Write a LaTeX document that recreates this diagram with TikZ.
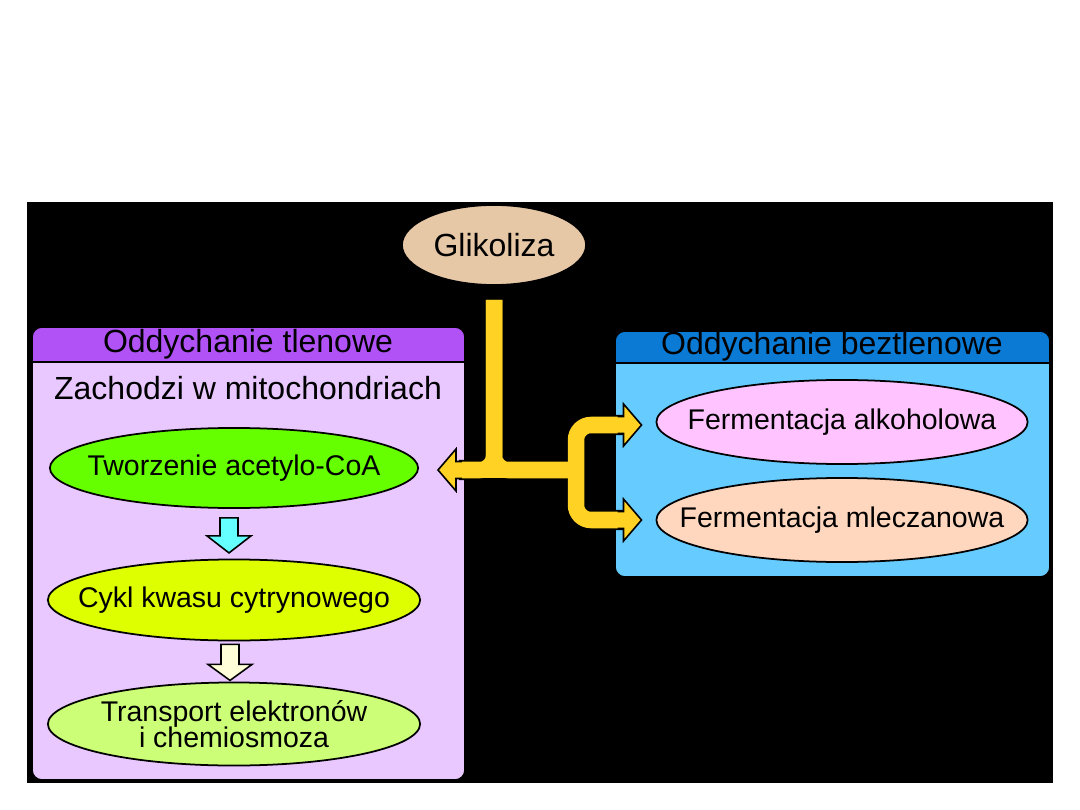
\documentclass[tikz,border=0pt]{standalone}
\usepackage{fontspec}
\setmainfont{Liberation Sans}
\usetikzlibrary{shapes.geometric, calc, positioning}

\definecolor{tlenHead}{RGB}{176,82,246}
\definecolor{tlenBody}{RGB}{232,200,255}
\definecolor{beztHead}{RGB}{10,122,212}
\definecolor{beztBody}{RGB}{102,204,255}
\definecolor{glikFill}{RGB}{230,200,167}
\definecolor{acetylFill}{RGB}{102,255,0}
\definecolor{cyklFill}{RGB}{222,255,0}
\definecolor{transFill}{RGB}{204,255,119}
\definecolor{alkoFill}{RGB}{255,196,255}
\definecolor{mleczFill}{RGB}{255,214,190}
\definecolor{cyanArr}{RGB}{102,255,255}
\definecolor{creamArr}{RGB}{255,255,216}
\definecolor{glikArr}{RGB}{255,210,36}

\begin{document}
\begin{tikzpicture}[x=0.01cm, y=-0.01cm,
    big/.style={font=\fontsize{9.1}{11}\selectfont},
    oval/.style={ellipse, draw, line width=0.5pt, inner sep=0pt},
    txt/.style={font=\fontsize{8.1}{7.2}\selectfont, align=center},
    frame/.style={draw, line width=0.45pt},
    shaftout/.style={draw=black, line width=0.2cm},
    shaftin/.style={draw=glikArr, line width=0.165cm},
    yhead/.style={fill=glikArr, draw=black, line width=0.45pt, line join=miter},
    blockarr/.style={draw=black, line width=0.45pt}]

    % page and black slide area
    \useasboundingbox (0,0) rectangle (1080,810);
    \fill[white] (0,0) rectangle (1080,810);
    \fill[black] (27,202) rectangle (1053,783);

    % Left frame: aerobic
    \draw[frame, fill=tlenBody, rounded corners=0.1cm] (32,327) rectangle (465,780);
    \draw[frame, fill=tlenHead] (32,362) [rounded corners=0.1cm] -- (32,327) -- (465,327) [sharp corners] -- (465,362) -- cycle;
    \node[big] (tlen) at (248,344) {Oddychanie tlenowe};
    \node[big] (mito) at (248,388) {Zachodzi w mitochondriach};

    % Right frame: anaerobic
    \draw[frame, fill=beztBody, rounded corners=0.1cm] (615,331) rectangle (1050,577);
    \draw[frame, fill=beztHead] (615,363) [rounded corners=0.1cm] -- (615,331) -- (1050,331) [sharp corners] -- (1050,363) -- cycle;
    \node[big] (bezt) at (832,346) {Oddychanie beztlenowe};

    % Process nodes (ellipse size fixed, text as centre label)
    \node[oval, fill=glikFill, minimum width=1.84cm, minimum height=0.8cm,
        label={[big]center:Glikoliza}] (glik) at (494,245) {};
    \node[oval, fill=acetylFill, minimum width=3.68cm, minimum height=0.8cm,
        label={[txt]center:Tworzenie acetylo-CoA}] (acetyl) at (234,468) {};
    \node[oval, fill=cyklFill, minimum width=3.72cm, minimum height=0.81cm,
        label={[txt]center:Cykl kwasu cytrynowego}] (cykl) at (234,600) {};
    \node[oval, fill=transFill, minimum width=3.72cm, minimum height=0.83cm,
        label={[txt]center:Transport elektronów\\[-1pt]i chemiosmoza}] (trans) at (234,724) {};
    \node[oval, fill=alkoFill, minimum width=3.71cm, minimum height=0.84cm,
        label={[txt]center:Fermentacja alkoholowa}] (alko) at (842,422) {};
    \node[oval, fill=mleczFill, minimum width=3.71cm, minimum height=0.84cm,
        label={[txt]center:Fermentacja mleczanowa}] (mlecz) at (842,520) {};

    % Block arrows inside the mitochondria
    \draw[blockarr, fill=cyanArr] ($(acetyl.south)+(-14,9)$) -- ++(18,0) -- ++(0,18) -- ++(13,0)
        -- ++(-22,17) -- ++(-22,-17) -- ++(13,0) -- cycle;
    \draw[blockarr, fill=creamArr] ($(cykl.south)+(-13,3)$) -- ++(18,0) -- ++(0,20) -- ++(13,0)
        -- ++(-22,16) -- ++(-22,-16) -- ++(13,0) -- cycle;

    % Yellow branching arrow from glycolysis
    \coordinate (top) at ($(glik.south)+(0,14)$);
    \coordinate (fork) at (top |- 0,470);
    \coordinate (ltip) at ($(acetyl.east)+(19,2)$);
    \coordinate (brace) at (576,470);
    \coordinate (atip) at ($(alko.west)+(-14,3)$);
    \coordinate (mtip) at ($(mlecz.west)+(-14,0)$);

    \foreach \st in {shaftout, shaftin} {
        \draw[\st] (top) -- (fork);
        \draw[\st] ($(ltip)+(21,0)$) -- (brace);
        \draw[\st, rounded corners=0.14cm] ($(ltip)+(21,0)$) -- (fork) -- (top);
        \draw[\st, rounded corners=0.14cm] (brace) -- (fork) -- (top);
        \draw[\st, rounded corners=0.15cm] ($(atip)+(-17,0)$) -- (brace |- atip) -- (brace |- mtip) -- ($(mtip)+(-17,0)$);
    }

    \draw[yhead] ($(ltip)+(24,-8.5)$) -- ++(-6,0) -- ++(0,-12.5) -- (ltip) -- ++(18,21) -- ++(0,-12.5) -- ++(6,0);
    \draw[yhead] ($(atip)+(-24,-8.5)$) -- ++(6,0) -- ++(0,-12.5) -- (atip) -- ++(-18,21) -- ++(0,-12.5) -- ++(-6,0);
    \draw[yhead] ($(mtip)+(-24,-8.5)$) -- ++(6,0) -- ++(0,-12.5) -- (mtip) -- ++(-18,21) -- ++(0,-12.5) -- ++(-6,0);
\end{tikzpicture}
\end{document}
